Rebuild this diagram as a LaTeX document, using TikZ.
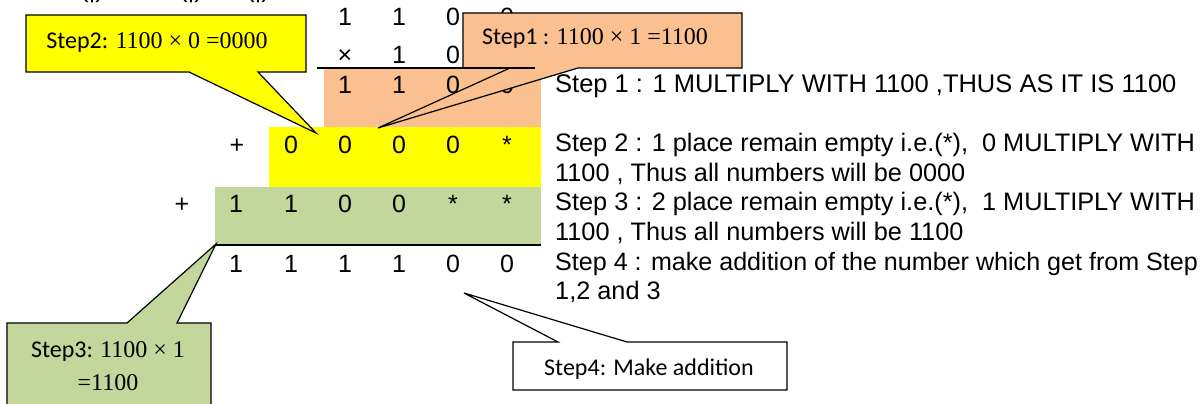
\documentclass[tikz,border=0pt]{standalone}
\usepackage{fontspec}
\setmainfont{Liberation Sans}
\newfontfamily\calib{Carlito}
\newfontfamily\tms{Liberation Serif}
\definecolor{orangeL}{HTML}{FAC090}
\definecolor{greenL}{HTML}{C3D69B}
\definecolor{yellowL}{HTML}{FFFF00}
\tikzset{
  dig/.style={anchor=base,inner sep=0pt,font=\fontsize{25}{30}\selectfont},
  txt/.style={anchor=base west,inner sep=0pt,font=\fontsize{25.3}{30}\selectfont},
  calltext/.style={anchor=base,inner sep=0pt,font=\fontsize{24}{29}\selectfont,align=center},
  callout/.style={draw=black,line width=1.2pt,line join=miter},
  rule/.style={draw=black,line width=1.6pt}
}
\begin{document}
\begin{tikzpicture}[x=1pt,y=-1pt]
\useasboundingbox (0,0) rectangle (1203,404);
\clip (0,0) rectangle (1203,404);
% coloured row bands
\fill[orangeL] (324,68) rectangle (541,127);
\fill[yellowL] (269,127) rectangle (541,187);
\fill[greenL] (215,187) rectangle (541,245);
% cut-off fragments at the top
\node[dig] (f1) at (92,-2) {(|)};
\node[dig] (f2) at (191,-2) {(|)};
\node[dig] (f3) at (258,-2) {(|)};
% row 1
\node[dig] (a1) at (345,26) {1};
\node[dig] (a2) at (399,26) {1};
\node[dig] (a3) at (453,26) {0};
\node[dig] (a4) at (507,26) {0};
% row 2
\node[dig] (b1) at (345,64) {×};
\node[dig] (b2) at (399,64) {1};
\node[dig] (b3) at (453,64) {0};
% row 3 (orange)
\node[dig] (c1) at (345,94) {1};
\node[dig] (c2) at (399,94) {1};
\node[dig] (c3) at (453,94) {0};
\node[dig] (c4) at (507,94) {0};
% row 4 (yellow)
\node[dig] (dp) at (237,153) {+};
\node[dig] (d1) at (291,153) {0};
\node[dig] (d2) at (345,153) {0};
\node[dig] (d3) at (399,153) {0};
\node[dig] (d4) at (453,153) {0};
\node[dig] (d5) at (507,153) {*};
% row 5 (green)
\node[dig] (ep) at (182,212) {+};
\node[dig] (e1) at (236,212) {1};
\node[dig] (e2) at (291,212) {1};
\node[dig] (e3) at (345,212) {0};
\node[dig] (e4) at (399,212) {0};
\node[dig] (e5) at (453,212) {*};
\node[dig] (e6) at (507,212) {*};
% result row
\node[dig] (r1) at (236,272) {1};
\node[dig] (r2) at (291,272) {1};
\node[dig] (r3) at (345,272) {1};
\node[dig] (r4) at (399,272) {1};
\node[dig] (r5) at (453,272) {0};
\node[dig] (r6) at (507,272) {0};
% explanation text
\node[txt,font=\fontsize{25.5}{30}\selectfont] (t1) at (555,92.5) {Step 1 : 1 MULTIPLY WITH 1100 ,THUS AS IT IS 1100};
\node[txt] (t2) at (555,151.7) {Step 2 : 1 place remain empty i.e.(*),\ \ 0 MULTIPLY WITH};
\node[txt] (t3) at (555,181.3) {1100 , Thus all numbers will be 0000};
\node[txt] (t4) at (555,210.9) {Step 3 : 2 place remain empty i.e.(*),\ \ 1 MULTIPLY WITH};
\node[txt] (t5) at (555,240.5) {1100 , Thus all numbers will be 1100};
\node[txt,font=\fontsize{25.1}{30}\selectfont] (t6) at (555,270.1) {Step 4 : make addition of the number which get from Step};
\node[txt] (t7) at (555,299.7) {1,2 and 3};
% rule under green band
\draw[rule] (215,245) -- (541,245);
% callout Step1
\coordinate (s1tip) at (378,128);
\draw[callout,fill=orangeL] (463,13) -- (742,13) -- (742,68) -- (578,68) -- (s1tip) -- (510,68) -- (463,68) -- cycle;
\node[calltext] (s1) at (595,45) {{\calib Step1 : }{\tms 1100 × 1 =1100}};
% multiplication rule
\draw[rule] (317,68) -- (535,68);
% callout Step2
\coordinate (s2tip) at (316,133);
\draw[callout,fill=yellowL] (26,15) -- (306,15) -- (306,72) -- (258,72) -- (s2tip) -- (189,72) -- (26,72) -- cycle;
\node[calltext] (s2) at (157,49) {{\calib Step2: }{\tms 1100 × 0 =0000}};
% callout Step3
\coordinate (s3tip) at (216,244);
\draw[callout,fill=greenL] (7,323) -- (127,323) -- (s3tip) -- (177,323) -- (211,323) -- (211,420) -- (7,420) -- cycle;
\node[calltext] (s3a) at (108,357) {{\calib Step3: }{\tms 1100 × 1}};
\node[calltext] (s3b) at (108,390) {{\tms =1100}};
% callout Step4
\coordinate (s4tip) at (464,293);
\draw[callout,fill=white] (513,342) -- (558,342) -- (s4tip) -- (627,342) -- (787,342) -- (787,390) -- (513,390) -- cycle;
\node[calltext] (s4) at (649,375) {{\calib Step4: Make addition}};
\end{tikzpicture}
\end{document}
